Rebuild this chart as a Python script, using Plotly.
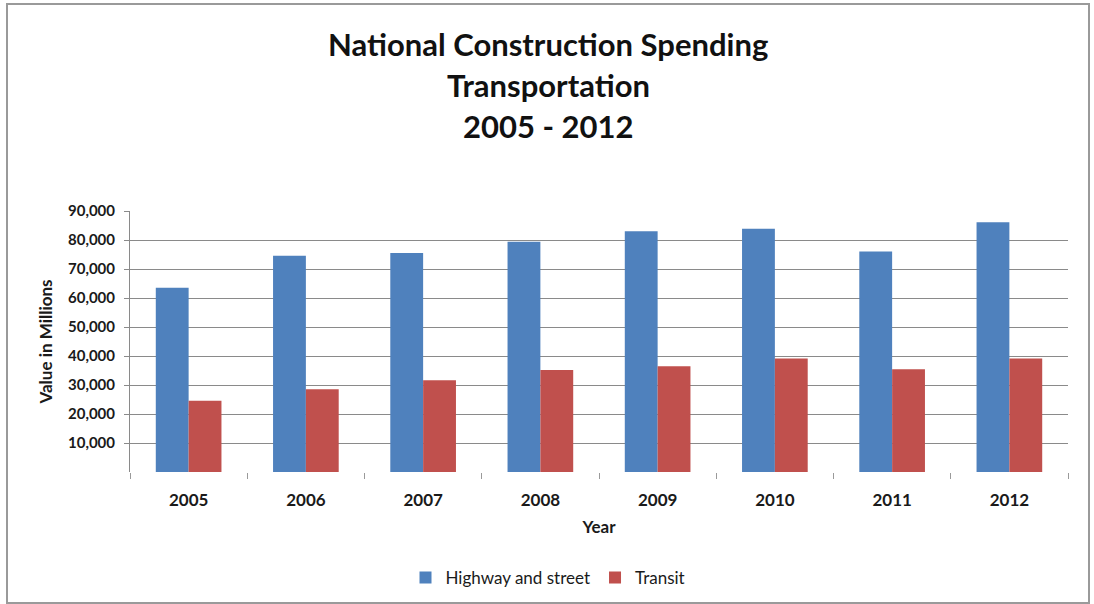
import plotly.graph_objects as go

years = ["2005", "2006", "2007", "2008", "2009", "2010", "2011", "2012"]
highway = [63500, 74600, 75500, 79400, 83000, 83900, 76000, 86100]
transit = [24600, 28500, 31600, 35200, 36500, 39100, 35400, 39100]
y_ticks = [10000, 20000, 30000, 40000, 50000, 60000, 70000, 80000, 90000]
y_tick_text = ["10,000", "20,000", "30,000", "40,000", "50,000", "60,000", "70,000", "80,000", "90,000"]
title_lines = ["National Construction Spending", "Transportation", "2005 - 2012"]

FONT = "Lato"

fig = go.Figure()
fig.add_trace(go.Bar(name="Highway and street", x=years, y=highway, marker_color="#4F81BD",
                     marker_line_width=0))
fig.add_trace(go.Bar(name="Transit", x=years, y=transit, marker_color="#C0504D",
                     marker_line_width=0))

W, H = 1094, 604
L, R, T, B = 130, 26, 211, 132
pw, ph = W - L - R, H - T - B

def px(x):
    return (x - L) / pw

def py(y):
    return (H - B - y) / ph

fig.update_layout(
    width=W, height=H,
    margin=dict(l=L, r=R, t=T, b=B, autoexpand=False),
    paper_bgcolor="white", plot_bgcolor="white",
    barmode="group", bargap=0.44, bargroupgap=0,
    font=dict(family=FONT, color="#1a1a1a", size=14),
    showlegend=True,
    legend=dict(orientation="h", x=px(548), xanchor="center", y=py(578), yanchor="middle",
                font=dict(family=FONT, size=17, color="#1a1a1a"), traceorder="normal",
                itemwidth=30, bgcolor="rgba(0,0,0,0)"),
    xaxis=dict(showgrid=False, showline=False, ticks="outside", tickson="boundaries",
               ticklen=6, tickcolor="#9a9a9a", ticklabelstandoff=16, automargin=False,
               tickvals=years, ticktext=["<b>" + y + "</b>" for y in years],
               tickfont=dict(family=FONT, size=17, color="#1a1a1a"),
               title=dict(text="<b>Year</b>", font=dict(family=FONT, size=17, color="#1a1a1a"),
                          standoff=12)),
    yaxis=dict(range=[0, 90000], tickvals=y_ticks, ticktext=["<b>" + t + "</b>" for t in y_tick_text],
               showgrid=True, gridcolor="#8a8a8a", gridwidth=1, automargin=False,
               showline=True, linecolor="#8a8a8a", linewidth=1,
               ticks="outside", ticklen=5, tickcolor="#8a8a8a", ticklabelstandoff=6,
               tickfont=dict(family=FONT, size=15, color="#1a1a1a"),
               zeroline=False,
               title=dict(text="<b>Value in Millions</b>",
                          font=dict(family=FONT, size=17, color="#1a1a1a"), standoff=11)),
)

title_y = [44, 85, 126]
for line, yy in zip(title_lines, title_y):
    fig.add_annotation(text="<b>" + line + "</b>", xref="paper", yref="paper",
                       x=px(548), y=py(yy), xanchor="center", yanchor="middle",
                       showarrow=False, font=dict(family=FONT, size=31, color="#111111"))

# chart frame
fig.add_shape(type="rect", xref="paper", yref="paper",
              x0=px(7), x1=px(1089), y0=py(603), y1=py(4),
              line=dict(color="#9a9a9a", width=2), fillcolor="rgba(0,0,0,0)", layer="below")

fig.write_html("out.html")
